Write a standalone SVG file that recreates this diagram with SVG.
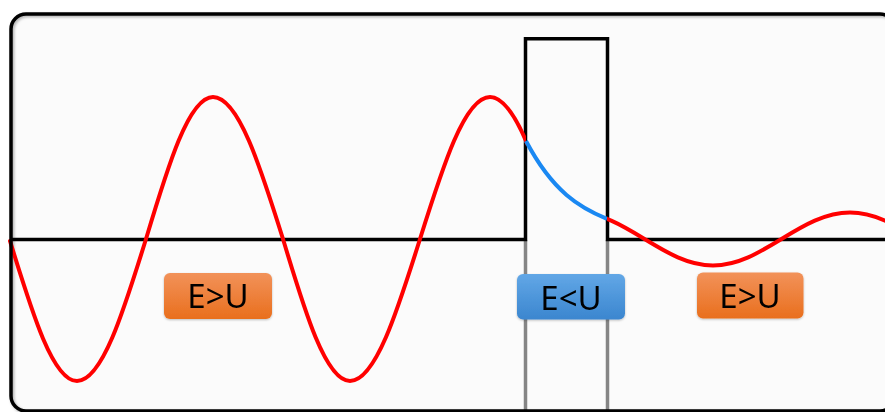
<svg xmlns="http://www.w3.org/2000/svg" width="885" height="412" viewBox="0 0 885 412">
  <defs>
    <linearGradient id="gOrange" x1="0" y1="0" x2="0" y2="1">
      <stop offset="0" stop-color="#f2925a"/>
      <stop offset="1" stop-color="#e96f1d"/>
    </linearGradient>
    <linearGradient id="gBlue" x1="0" y1="0" x2="0" y2="1">
      <stop offset="0" stop-color="#62a7e6"/>
      <stop offset="1" stop-color="#3b86cf"/>
    </linearGradient>
    <filter id="soft" x="-5%" y="-5%" width="110%" height="110%">
      <feGaussianBlur stdDeviation="1.5"/>
    </filter>
    <filter id="lblShadow" x="-10%" y="-20%" width="120%" height="150%">
      <feDropShadow dx="0" dy="1" stdDeviation="0.8" flood-color="#000" flood-opacity="0.25"/>
    </filter>
    <clipPath id="clipLeft"><rect x="0" y="0" width="526" height="412"/></clipPath>
    <clipPath id="clipRight"><rect x="607" y="0" width="300" height="412"/></clipPath>
  </defs>
  <style>
    .frame { fill: none; stroke: #000; stroke-width: 3.5; }
    .axis { fill: none; stroke: #000; stroke-width: 3.5; stroke-linejoin: miter; }
    .guide { stroke: #858585; stroke-width: 3.5; }
    .wave { fill: none; stroke: #ff0000; stroke-width: 4; stroke-linecap: round; }
    .tunnel { fill: none; stroke: #1a88f2; stroke-width: 4; }
    .lbl { font-family: "Noto Sans", "Open Sans", "DejaVu Sans", sans-serif; font-size: 33px; fill: #000; text-anchor: middle; }
  </style>

  <rect x="0" y="0" width="885" height="412" fill="#ffffff"/>
  <rect x="11" y="14" width="884" height="397" rx="15" fill="#fbfbfb"/>
  <rect x="12.5" y="15.5" width="884" height="397" rx="15" fill="none" stroke="#000" stroke-opacity="0.35" stroke-width="3" filter="url(#soft)"/>

  <g id="guides">
    <line class="guide" x1="525.5" y1="240" x2="525.5" y2="412"/>
    <line class="guide" x1="607.5" y1="240" x2="607.5" y2="412"/>
  </g>

  <g id="potential">
    <path class="axis" d="M11 239.5 H525.5 V38.7 H607.5 V239.5 H885"/>
  </g>

  <g id="wave-left">
    <path class="wave" clip-path="url(#clipLeft)" d="M10 241 C31.8 311.7 52.8 381 77 381 C102 381 123.5 311.7 146 239 C167.8 166.3 188.8 97 213 97 C238.3 97 260.2 166.3 283 239 C304.8 311.7 325.8 381 350 381 C375.3 381 397.2 311.7 420 239 C442.8 166.3 464.7 97 490 97 C515.3 97 537.2 166.3 560 239"/>
  </g>

  <g id="wave-barrier">
    <path class="tunnel" d="M526 141 C553 192.1 580 207.8 607 218.8"/>
  </g>

  <g id="wave-right">
    <path class="wave" clip-path="url(#clipRight)" d="M576 212.5 C600.8 212.5 622.2 225.4 644.5 239 C666.8 252.6 688.2 265.5 713 265.5 C737.8 265.5 759.2 252.6 781.5 239 C803.8 225.4 825.2 212.5 850 212.5 C874.8 212.5 896.2 225.4 918.5 239"/>
  </g>

  <g id="label-left" filter="url(#lblShadow)">
    <rect x="164" y="273" width="108" height="46" rx="6" fill="url(#gOrange)"/>
    <text class="lbl" x="218" y="307.5">E&gt;U</text>
  </g>
  <g id="label-barrier" filter="url(#lblShadow)">
    <rect x="517" y="274" width="108" height="45.5" rx="6" fill="url(#gBlue)"/>
    <text class="lbl" x="571" y="309.5">E&lt;U</text>
  </g>
  <g id="label-right" filter="url(#lblShadow)">
    <rect x="697" y="272.5" width="106.5" height="46" rx="6" fill="url(#gOrange)"/>
    <text class="lbl" x="750" y="308">E&gt;U</text>
  </g>

  <rect class="frame" x="11" y="14" width="884" height="397" rx="15"/>
</svg>
